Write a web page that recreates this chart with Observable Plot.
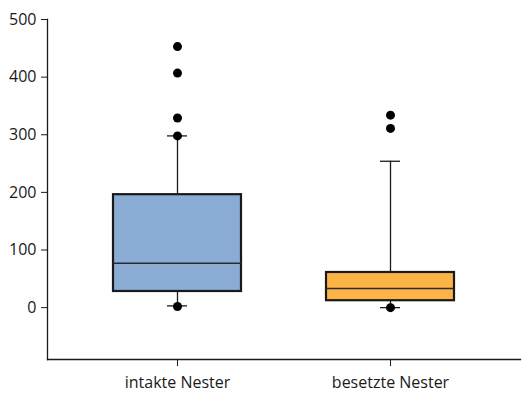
<!DOCTYPE html>
<html>
<head>
<meta charset="utf-8">
<script src="https://cdn.jsdelivr.net/npm/d3@7"></script>
<script src="https://cdn.jsdelivr.net/npm/@observablehq/plot@0.6"></script>
<style>
  html, body { margin: 0; padding: 0; background: #fff; }
  #chart svg { display: block; }
</style>
</head>
<body>
<div id="chart"></div>
<script>
const categories = ["intakte Nester", "besetzte Nester"];
const q1 = [28, 12];
const medians = [77, 33];
const q3 = [196, 61];
const whiskerLow = [3, 0];
const whiskerHigh = [298, 254];
const outliers = [[453, 407, 329, 298, 2], [334, 311, 0]];
const boxColors = ["#89abd4", "#fdb447"];
const yTicks = [0, 100, 200, 300, 400, 500];

const boxes = categories.map((c, i) => ({
  cat: c, q1: q1[i], med: medians[i], q3: q3[i],
  lo: whiskerLow[i], hi: whiskerHigh[i], color: boxColors[i]
}));
const points = categories.flatMap((c, i) => outliers[i].map(v => ({cat: c, v})));

const ink = "#1a1a1a";
const chart = Plot.plot({
  width: 522,
  height: 393,
  marginLeft: 47,
  marginRight: 2,
  marginTop: 19,
  marginBottom: 34,
  style: {fontFamily: "'Open Sans', sans-serif", fontSize: "16px", color: ink, background: "#fff"},
  x: {domain: categories, paddingInner: 0.397, paddingOuter: 0.304, label: null},
  y: {domain: [-90, 500], label: null},
  color: {type: "identity"},
  marks: [
    Plot.frame({anchor: "left", stroke: ink, strokeWidth: 1.3}),
    Plot.frame({anchor: "bottom", stroke: ink, strokeWidth: 1.3}),
    Plot.axisY({ticks: yTicks, tickSize: 6, tickPadding: 5, fontSize: 16, label: null, stroke: ink}),
    Plot.axisX({tickSize: 7, tickPadding: 10, fontSize: 16, label: null, stroke: ink}),
    Plot.ruleX(boxes, {x: "cat", y1: "q3", y2: "hi", stroke: ink, strokeWidth: 1.3}),
    Plot.ruleX(boxes, {x: "cat", y1: "lo", y2: "q1", stroke: ink, strokeWidth: 1.3}),
    Plot.tickY(boxes, {x: "cat", y: "hi", stroke: ink, strokeWidth: 1.3, insetLeft: 54, insetRight: 54}),
    Plot.tickY(boxes, {x: "cat", y: "lo", stroke: ink, strokeWidth: 1.3, insetLeft: 54, insetRight: 54}),
    Plot.barY(boxes, {x: "cat", y1: "q1", y2: "q3", fill: "color", stroke: "#1a1a1a", strokeWidth: 2.2}),
    Plot.tickY(boxes, {x: "cat", y: "med", stroke: "#2b2b2b", strokeWidth: 1.5}),
    Plot.dot(points, {x: "cat", y: "v", r: 4.5, fill: "#000", stroke: "none"})
  ]
});
document.getElementById("chart").appendChild(chart);
</script>
</body>
</html>
